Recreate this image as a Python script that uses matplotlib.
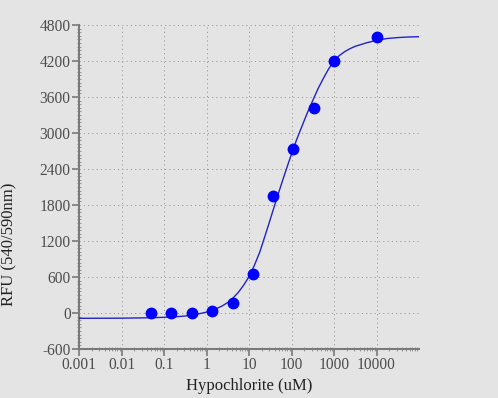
import numpy as np
import matplotlib
matplotlib.use('Agg')
import matplotlib.pyplot as plt
from matplotlib.ticker import FixedLocator, FixedFormatter, LogLocator, NullFormatter

# measured points
conc = [0.05, 0.15, 0.46, 1.37, 4.1, 12.3, 37, 111, 333, 1000, 10000]
rfu = [0, 0, 5, 38, 162, 650, 1955, 2735, 3420, 4205, 4595]

# fitted curve
curve_x = [0.001, 0.00178, 0.00316, 0.00562, 0.01, 0.0178, 0.0316, 0.0562,
           0.1, 0.178, 0.316, 0.562, 1, 1.33, 1.78, 2.37, 3.16, 4.22, 5.62,
           7.5, 10, 13.3, 17.8, 23.7, 31.6, 42.2, 56.2, 75, 100, 133, 178,
           237, 316, 422, 562, 750, 1000, 1330, 1780, 2370, 3160, 5620,
           10000, 17800, 31600, 56200, 100000]
curve_y = [-88, -88, -87, -87, -86, -84, -81, -77, -72, -64, -50, -25, 15,
           42, 78, 120, 175, 250, 345, 465, 605, 790, 1010, 1280, 1560, 1845,
           2120, 2390, 2650, 2895, 3120, 3340, 3540, 3740, 3910, 4070, 4200,
           4290, 4355, 4405, 4445, 4500, 4545, 4575, 4590, 4600, 4605]

xticks = [0.001, 0.01, 0.1, 1, 10, 100, 1000, 10000]
xlabels = ['0.001', '0.01', '0.1', '1', '10', '100', '1000', '10000']
yticks = [-600, 0, 600, 1200, 1800, 2400, 3000, 3600, 4200, 4800]
ylabels = [str(v) for v in yticks]

bg = '#e4e4e4'
plt.rcParams['font.family'] = 'Liberation Serif'

fig = plt.figure(figsize=(4.98, 3.98), dpi=100, facecolor=bg)
ax = fig.add_axes([79/498, 1-349/398, 340/498, 324/398])
ax.set_facecolor(bg)

ax.set_xscale('log')
ax.set_xlim(0.001, 100000)
ax.set_ylim(-600, 4800)

grid_kw = dict(color='#9a9a9a', linewidth=0.7, linestyle=(0, (1.2, 3.2)))
ax.grid(True, which='major', **grid_kw)
ax.axvline(100000, **grid_kw)

ax.plot(curve_x, curve_y, color='#2323c8', linewidth=1.0, zorder=3)
ax.plot(conc, rfu, 'o', color='#0000ff', markersize=7.5, zorder=4)

ax.xaxis.set_major_locator(FixedLocator(xticks))
ax.xaxis.set_major_formatter(FixedFormatter(xlabels))
ax.xaxis.set_minor_locator(LogLocator(base=10, subs=np.arange(2, 10), numticks=20))
ax.xaxis.set_minor_formatter(NullFormatter())
ax.yaxis.set_major_locator(FixedLocator(yticks))
ax.yaxis.set_major_formatter(FixedFormatter(ylabels))
ax.yaxis.set_minor_locator(FixedLocator(np.arange(-600, 4801, 60)))

for s in ['top', 'right']:
    ax.spines[s].set_visible(False)
for s in ['left', 'bottom']:
    ax.spines[s].set_color('#7a7a7a')
    ax.spines[s].set_linewidth(1.5)

ax.tick_params(which='major', direction='out', length=5, width=1.2,
               color='#7a7a7a', labelcolor='#4d4d4d', labelsize=11.2, pad=1)
ax.tick_params(which='minor', direction='inout', length=3, width=0.6,
               color='#8a8a8a')

ax.set_xlabel('Hypochlorite (uM)', fontsize=12, color='#222222', labelpad=3)
ax.set_ylabel('RFU (540/590nm)', fontsize=12, color='#222222')
ax.yaxis.set_label_coords(-0.182, 0.3225)

fig.savefig('out.png', dpi=100, facecolor=bg)
